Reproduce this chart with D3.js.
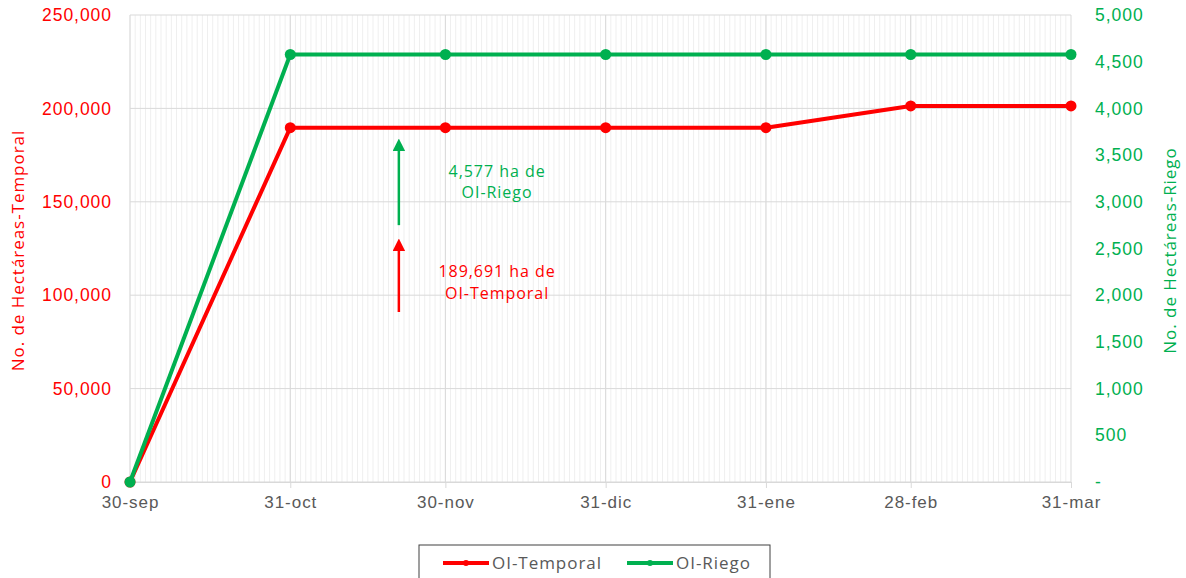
<!DOCTYPE html>
<html>
<head>
<meta charset="utf-8">
<script src="https://cdn.jsdelivr.net/npm/d3@7"></script>
<style>
  body { margin: 0; background: #fff; }
  svg { font-family: "Open Sans", sans-serif; letter-spacing: 0.06em; }
</style>
</head>
<body>
<div id="chart"></div>
<script>
// data
const fechas = ["2022-09-30", "2022-10-31", "2022-11-30", "2022-12-31", "2023-01-31", "2023-02-28", "2023-03-31"];
const etiquetas = ["30-sep", "31-oct", "30-nov", "31-dic", "31-ene", "28-feb", "31-mar"];
const temporal = [0, 189691, 189691, 189691, 189691, 201300, 201300];
const riego = [0, 4577, 4577, 4577, 4577, 4577, 4577];
const ticksIzq = [0, 50000, 100000, 150000, 200000, 250000];
const ticksDer = [0, 500, 1000, 1500, 2000, 2500, 3000, 3500, 4000, 4500, 5000];

const rojo = "#ff0000", verde = "#00b050";

const W = 1186, H = 578;
const margin = { top: 15, right: 115, bottom: 96, left: 130 };
const width = W - margin.left - margin.right,
      height = H - margin.top - margin.bottom;

const parse = d3.utcParse("%Y-%m-%d");
const dates = fechas.map(parse);

const x = d3.scaleUtc().domain([dates[0], dates[dates.length - 1]]).range([0, width]);
const yL = d3.scaleLinear().domain([0, 250000]).range([height, 0]);
const yR = d3.scaleLinear().domain([0, 5000]).range([height, 0]);

const svg = d3.select("#chart").append("svg")
  .attr("width", W).attr("height", H);
const g = svg.append("g").attr("transform", `translate(${margin.left},${margin.top})`);

// daily minor grid
g.append("g").selectAll("line")
  .data(d3.utcDay.range(dates[0], dates[dates.length - 1]))
  .join("line")
  .attr("x1", d => x(d)).attr("x2", d => x(d))
  .attr("y1", 0).attr("y2", height)
  .attr("stroke", "#efefef").attr("stroke-width", 1);

// horizontal grid
g.append("g").selectAll("line")
  .data(ticksIzq)
  .join("line")
  .attr("x1", 0).attr("x2", width)
  .attr("y1", d => yL(d)).attr("y2", d => yL(d))
  .attr("stroke", "#d9d9d9").attr("stroke-width", 1);

// major vertical grid
g.append("g").selectAll("line")
  .data(dates)
  .join("line")
  .attr("x1", d => x(d)).attr("x2", d => x(d))
  .attr("y1", 0).attr("y2", height)
  .attr("stroke", "#d9d9d9").attr("stroke-width", 1);

// x axis
const xAxis = g.append("g")
  .attr("transform", `translate(0,${height})`)
  .call(d3.axisBottom(x).tickValues(dates).tickFormat((d, i) => etiquetas[i]).tickSize(6).tickPadding(8));
xAxis.select(".domain").attr("stroke", "#d9d9d9");
xAxis.selectAll(".tick line").attr("stroke", "#d9d9d9");
xAxis.selectAll("text").attr("fill", "#595959").style("font-size", "17px");

// left axis
const yAxisL = g.append("g")
  .call(d3.axisLeft(yL).tickValues(ticksIzq).tickFormat(d3.format(",")).tickSize(0).tickPadding(18));
yAxisL.select(".domain").remove();
yAxisL.selectAll("text").attr("fill", rojo).style("font-size", "17.5px");

// right axis
const yAxisR = g.append("g")
  .attr("transform", `translate(${width},0)`)
  .call(d3.axisRight(yR).tickValues(ticksDer).tickFormat(d => d === 0 ? "-" : d3.format(",")(d)).tickSize(0).tickPadding(24));
yAxisR.select(".domain").remove();
yAxisR.selectAll("text").attr("fill", verde).style("font-size", "17.5px");

// axis titles
svg.append("text")
  .attr("transform", `translate(24,${margin.top + height / 2 + 2}) rotate(-90)`)
  .attr("text-anchor", "middle").attr("fill", rojo).style("font-size", "17px")
  .text("No. de Hectáreas-Temporal");
svg.append("text")
  .attr("transform", `translate(1176,${margin.top + height / 2 + 2}) rotate(-90)`)
  .attr("text-anchor", "middle").attr("fill", verde).style("font-size", "17px")
  .text("No. de Hectáreas-Riego");

// lines
const series = [
  { name: "OI-Temporal", values: temporal, y: yL, color: rojo },
  { name: "OI-Riego", values: riego, y: yR, color: verde }
];
series.forEach(s => {
  const line = d3.line().x((d, i) => x(dates[i])).y(d => s.y(d));
  g.append("path").datum(s.values)
    .attr("d", line).attr("fill", "none")
    .attr("stroke", s.color).attr("stroke-width", 4).attr("stroke-linejoin", "round");
  g.append("g").selectAll("circle").data(s.values).join("circle")
    .attr("cx", (d, i) => x(dates[i])).attr("cy", d => s.y(d))
    .attr("r", 5.5).attr("fill", s.color);
});

// annotations
const defs = svg.append("defs");
[["flechaV", verde], ["flechaR", rojo]].forEach(([id, c]) => {
  defs.append("marker").attr("id", id).attr("viewBox", "0 0 10 10")
    .attr("refX", 2).attr("refY", 5).attr("markerWidth", 5).attr("markerHeight", 5)
    .attr("orient", "auto")
    .append("path").attr("d", "M0,0 L10,5 L0,10 z").attr("fill", c);
});
const fx = x(d3.utcDay.offset(dates[1], 21));
g.append("line").attr("x1", fx).attr("x2", fx)
  .attr("y1", yR(2750)).attr("y2", yR(3570))
  .attr("stroke", verde).attr("stroke-width", 2.5).attr("marker-end", "url(#flechaV)");
g.append("line").attr("x1", fx).attr("x2", fx)
  .attr("y1", yR(1820)).attr("y2", yR(2500))
  .attr("stroke", rojo).attr("stroke-width", 2.5).attr("marker-end", "url(#flechaR)");

const tx = x(d3.utcDay.offset(dates[2], 10));
g.append("text").attr("x", tx).attr("y", yR(3270)).attr("text-anchor", "middle")
  .attr("fill", verde).style("font-size", "16px").text("4,577 ha de");
g.append("text").attr("x", tx).attr("y", yR(3040)).attr("text-anchor", "middle")
  .attr("fill", verde).style("font-size", "16px").text("OI-Riego");
g.append("text").attr("x", tx).attr("y", yR(2190)).attr("text-anchor", "middle")
  .attr("fill", rojo).style("font-size", "16px").text("189,691 ha de");
g.append("text").attr("x", tx).attr("y", yR(1960)).attr("text-anchor", "middle")
  .attr("fill", rojo).style("font-size", "16px").text("OI-Temporal");

// legend
const leg = svg.append("g");
leg.append("rect").attr("x", 419).attr("y", 545).attr("width", 351).attr("height", 40)
  .attr("fill", "#fff").attr("stroke", "#404040").attr("stroke-width", 1);
const legX = [443, 627];
series.forEach((s, i) => {
  leg.append("line").attr("x1", legX[i]).attr("x2", legX[i] + 46)
    .attr("y1", 563).attr("y2", 563).attr("stroke", s.color).attr("stroke-width", 4);
  leg.append("circle").attr("cx", legX[i] + 23).attr("cy", 563).attr("r", 3).attr("fill", s.color);
  leg.append("text").attr("x", legX[i] + 49).attr("y", 569)
    .attr("fill", "#595959").style("font-size", "17px").text(s.name);
});
</script>
</body>
</html>
